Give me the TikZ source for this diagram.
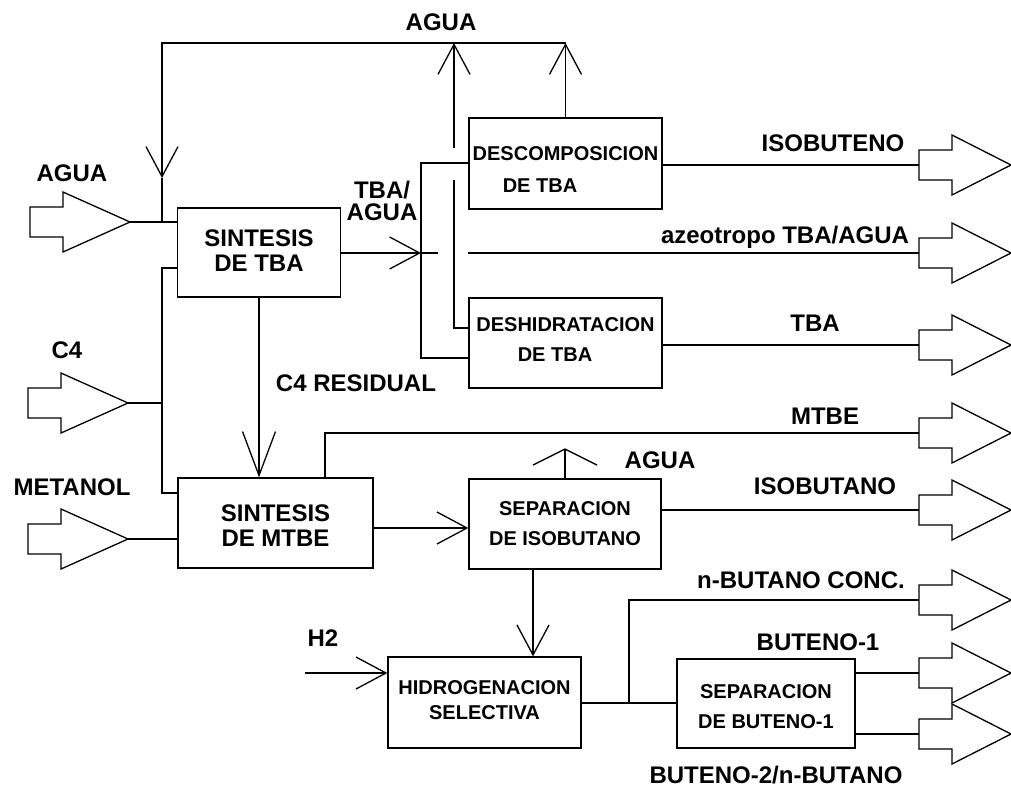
\documentclass[tikz,border=0pt]{standalone}
\usepackage{fontspec}
\setmainfont{Liberation Sans}
\usetikzlibrary{arrows.meta}
\begin{document}
\begin{tikzpicture}[x=1pt,y=-1pt, line width=1.3pt,
  varrow/.style={-{Straight Barb[length=30pt,width=32pt]}},
  vlong/.style={-{Straight Barb[length=44pt,width=33pt]}},
  vwide/.style={-{Straight Barb[length=16pt,width=64pt]}},
  box/.style={draw, inner sep=0pt, align=center, font=\bfseries\fontsize{20}{30}\selectfont},
  bigbox/.style={box, font=\bfseries\fontsize{24}{25}\selectfont},
  lbl/.style={inner sep=0pt, anchor=base, font=\bfseries\fontsize{24}{24}\selectfont},
  blk/.style={draw, fill=white, line join=miter},
  inarrow/.pic={\draw[blk] (0,0) -- (-67,-30) -- (-67,-15) -- (-100,-15) -- (-100,15) -- (-67,15) -- (-67,30) -- cycle; \coordinate (-tip) at (0,0);},
  outarrow/.pic={\draw[blk] (0,-15) -- (33,-15) -- (33,-30) -- (92,0) -- (33,30) -- (33,15) -- (0,15) -- cycle; \coordinate (-tail) at (0,0);}
]
\useasboundingbox (0,0) rectangle (1011,788);

% boxes
\node[bigbox, minimum width=163pt, minimum height=89pt] (stba) at (259,252.5) {SINTESIS\\DE TBA\rule[-4pt]{0pt}{4pt}};
\node[bigbox, minimum width=195pt, minimum height=90pt] (smtbe) at (275.5,523) {\rule{0pt}{21pt}SINTESIS\\DE MTBE};
\node[box, minimum width=193pt, minimum height=91pt, font=\bfseries\fontsize{20}{32}\selectfont] (desc) at (565.5,163.5) {\rule{0pt}{25pt}DESCOMPOSICION\\\hspace*{-51pt}DE TBA};
\node[box, minimum width=193pt, minimum height=90pt] (desh) at (565.5,343) {DESHIDRATACION\\\hspace*{-21pt}DE TBA\rule[-6pt]{0pt}{6pt}};
\node[box, minimum width=192pt, minimum height=90pt] (sepiso) at (565,524) {SEPARACION\\DE ISOBUTANO};
\node[box, minimum width=193pt, minimum height=91pt, font=\bfseries\fontsize{20}{25}\selectfont] (hidro) at (484.5,702.5) {HIDROGENACION\\SELECTIVA\rule[-4pt]{0pt}{4pt}};
\node[box, minimum width=178pt, minimum height=89pt] (sepbut) at (766,703.5) {\rule{0pt}{21pt}SEPARACION\\DE BUTENO-1};

% input block arrows
\pic (inAgua) at (130,222) {inarrow};
\pic (inC) at (128,403) {inarrow};
\pic (inMet) at (128,539) {inarrow};

% output block arrows
\pic (oIsobuteno) at (919,165) {outarrow};
\pic (oAzeo) at (919,253) {outarrow};
\pic (oTba) at (919,345) {outarrow};
\pic (oMtbe) at (919,433) {outarrow};
\pic (oIsobutano) at (919,510) {outarrow};
\pic (oNbut) at (919,600) {outarrow};
\pic (oBut1) at (919,673) {outarrow};
\pic (oBut2) at (919,734) {outarrow};

% helper coordinates
\coordinate (tl) at (162,43);
\coordinate (dj) at (454,328);
\coordinate (jt) at (421,253);
\coordinate (jd1) at (421,163);
\coordinate (jd2) at (421,358);
\coordinate (c1) at (162,268);
\coordinate (c2) at (162,493);
\coordinate (m1) at (325,433);
\coordinate (s1) at (0,528);
\coordinate (h1) at (533,0);
\coordinate (h2) at (305,673);
\coordinate (b0) at (0,703);
\coordinate (b1) at (629,703);

% connectors
\draw (inAgua-tip) -- (stba.west |- inAgua-tip);
\draw[varrow] (desc.north) -- (desc.north |- tl);
\draw[varrow] (desc.north |- tl) -- (tl) -- (162,178);
\draw (162,178) -- (inAgua-tip -| tl);

\draw (desh.west |- dj) -- (dj) -- (454,180);
\draw[varrow] (454,148) -- (dj |- tl);

\draw[varrow] (stba.east |- jt) -- (jt);
\draw (desc.west |- jd1) -- (jd1) -- (jd2) -- (desh.west |- jd2);
\draw (jt) -- (438,253);
\draw (468,253) -- (oAzeo-tail);

\draw (desc.east |- oIsobuteno-tail) -- (oIsobuteno-tail);
\draw (desh.east |- oTba-tail) -- (oTba-tail);

\draw[vlong] (stba.south) -- (stba.south |- smtbe.north);
\draw (stba.west |- c1) -- (c1) -- (c2) -- (smtbe.west |- c2);
\draw (inC-tip) -- (inC-tip -| c1);
\draw (inMet-tip) -- (smtbe.west |- inMet-tip);

\draw (smtbe.north -| m1) -- (m1) -- (oMtbe-tail);
\draw[varrow] (smtbe.east |- s1) -- (sepiso.west |- s1);
\draw[vwide] (sepiso.north) -- ++(0,-30);
\draw (sepiso.east |- oIsobutano-tail) -- (oIsobutano-tail);
\draw[varrow] (sepiso.south -| h1) -- (hidro.north -| h1);
\draw[varrow] (h2) -- (hidro.west |- h2);
\draw (hidro.east |- b0) -- (sepbut.west |- b0);
\draw (b1) -- (b1 |- oNbut-tail) -- (oNbut-tail);
\draw (sepbut.east |- oBut1-tail) -- (oBut1-tail);
\draw (sepbut.east |- oBut2-tail) -- (oBut2-tail);

% labels
\node[lbl] (lAguaTop) at (441,30.6) {AGUA};
\node[lbl] (lAguaIn) at (72,181.6) {AGUA};
\node[inner sep=0pt, align=center, font=\bfseries\fontsize{24}{22}\selectfont] (lTbaAgua) at (382,201) {TBA/\\AGUA};
\node[lbl] (lC4) at (67,358.6) {C4};
\node[lbl] (lC4r) at (356,391.6) {C4 RESIDUAL};
\node[lbl] (lMet) at (72,495.6) {METANOL};
\node[lbl] (lIsobuteno) at (833,151.6) {ISOBUTENO};
\node[lbl] (lAzeo) at (785,243.6) {azeotropo TBA/AGUA};
\node[lbl] (lTba) at (815,331.6) {TBA};
\node[lbl] (lMtbe) at (825,424.6) {MTBE};
\node[lbl] (lAguaSep) at (660,468.6) {AGUA};
\node[lbl] (lIsobutano) at (825,494.6) {ISOBUTANO};
\node[lbl] (lNbut) at (801,588.6) {n-BUTANO CONC.};
\node[lbl] (lBut1) at (818,650.6) {BUTENO-1};
\node[lbl] (lBut2) at (776,783.5) {BUTENO-2/n-BUTANO};
\node[lbl] (lH2) at (323,646.6) {H2};
\end{tikzpicture}
\end{document}
